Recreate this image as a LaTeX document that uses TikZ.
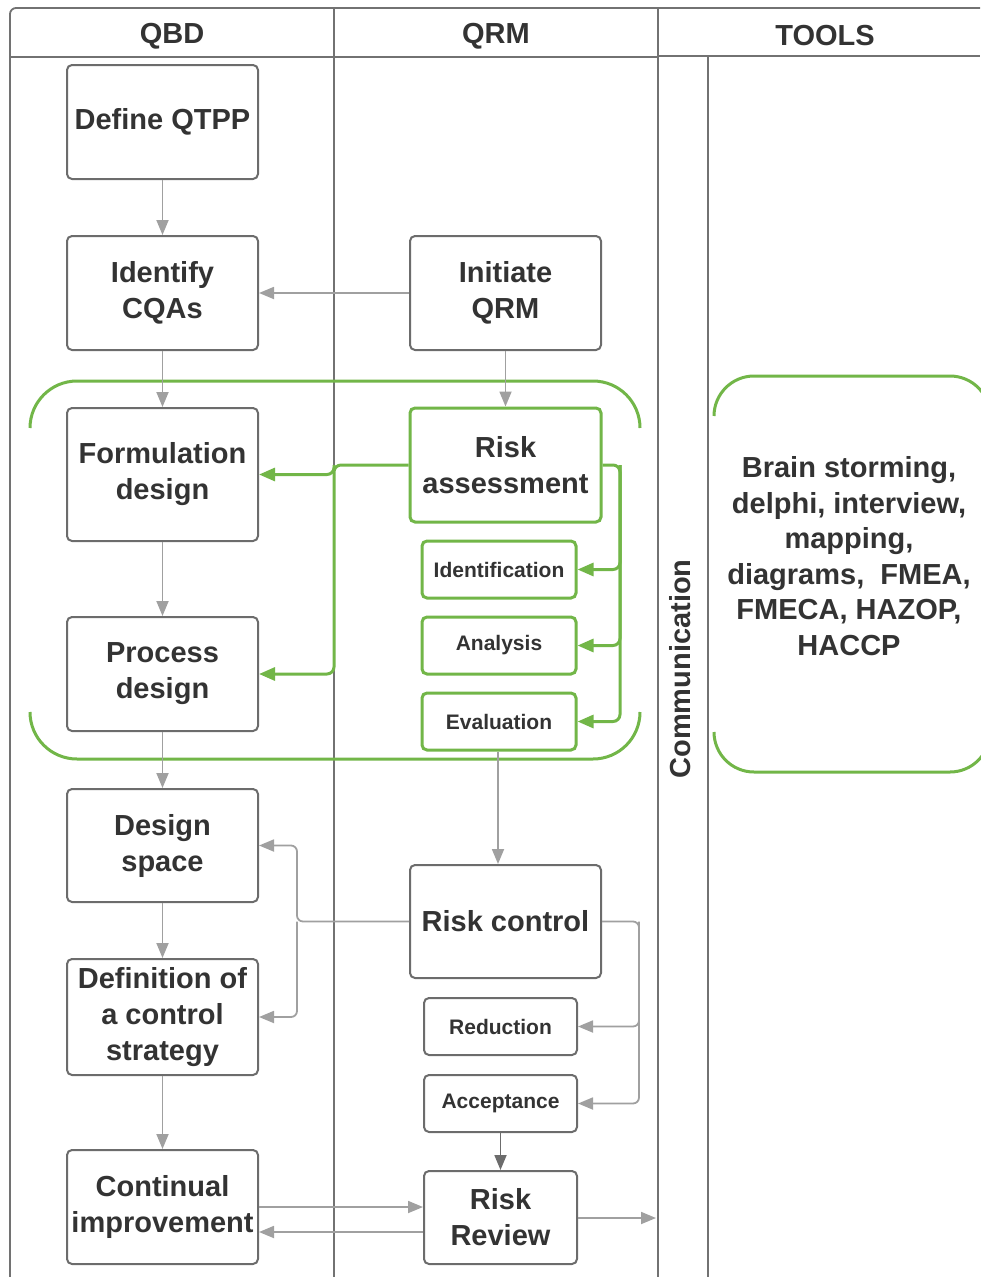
\documentclass[tikz,border=0pt]{standalone}
\usepackage{fontspec}
\setmainfont{Liberation Sans}
\usetikzlibrary{arrows.meta}
\definecolor{txtgray}{HTML}{333333}
\definecolor{boxgray}{HTML}{6C6C6C}
\definecolor{lnkgray}{HTML}{A0A0A0}
\definecolor{framegray}{HTML}{727272}
\definecolor{qgreen}{HTML}{72B648}
\tikzset{
  box/.style={draw=boxgray, line width=2pt, rounded corners=5pt, fill=white,
    text=txtgray, align=center, inner sep=0pt,
    font=\bfseries\fontsize{29}{36}\selectfont},
  smallbox/.style={box, font=\bfseries\fontsize{21}{26}\selectfont},
  gbox/.style={box, draw=qgreen, line width=3pt},
  gsmallbox/.style={smallbox, draw=qgreen, line width=3pt},
  lnk/.style={draw=lnkgray, line width=1.8pt, rounded corners=6pt,
    -{Triangle[length=15pt,width=12pt]}},
  darklnk/.style={lnk, draw=boxgray},
  glnk/.style={draw=qgreen, line width=3pt, rounded corners=7pt,
    -{Triangle[length=16pt,width=13pt]}},
  frame/.style={draw=framegray, line width=1.8pt},
  gcont/.style={draw=qgreen, line width=3pt},
  heading/.style={text=txtgray, font=\bfseries\fontsize{29}{34}\selectfont},
}
\begin{document}
\begin{tikzpicture}[x=1pt,y=-1pt]
\useasboundingbox (0,0) rectangle (980,1277);

% swimlane frame
\draw[frame, rounded corners=6pt] (10,1277) -- (10,8) -- (980,8);
\draw[frame] (10,57) -- (658,57);
\draw[frame] (658,56) -- (980,56);
\draw[frame] (334,8) -- (334,1277);
\draw[frame] (658,8) -- (658,1277);
\draw[frame] (708,57) -- (708,1277);

\node[heading] (hqbd) at (172,36) {QBD};
\node[heading] (hqrm) at (496,36) {QRM};
\node[heading] (htools) at (825,36) {TOOLS};
\node[heading, rotate=90] (comm) at (680,669) {Communication};
\coordinate (commline) at (656,1218);

% risk assessment group bracket
\draw[gcont] (30,428) arc[start angle=180, end angle=90, radius=47pt]
  -- (593,381) arc[start angle=90, end angle=0, radius=47pt];
\draw[gcont] (30,712) arc[start angle=180, end angle=270, radius=47pt]
  -- (593,759) arc[start angle=270, end angle=360, radius=47pt];

% tools bracket
\draw[gcont] (714,416) arc[start angle=180, end angle=90, radius=40pt]
  -- (950,376) arc[start angle=90, end angle=0, radius=40pt] -- (990,430);
\draw[gcont] (714,732) arc[start angle=180, end angle=270, radius=40pt]
  -- (950,772) arc[start angle=270, end angle=360, radius=40pt] -- (990,720);
\node[text=txtgray, align=center, font=\bfseries\fontsize{29}{35.5}\selectfont]
  (tools) at (849,556) {Brain storming,\\delphi, interview,\\mapping,\\diagrams,~ FMEA,\\FMECA, HAZOP,\\HACCP};

% QbD lane
\node[box, minimum width=191pt, minimum height=114pt] (qtpp) at (162.5,122) {Define QTPP};
\node[box, minimum width=191pt, minimum height=114pt] (cqa) at (162.5,293) {Identify\\CQAs};
\node[box, minimum width=191pt, minimum height=133pt] (form) at (162.5,474.5) {Formulation\\design};
\node[box, minimum width=191pt, minimum height=114pt] (proc) at (162.5,674) {Process\\design};
\node[box, minimum width=191pt, minimum height=113pt] (ds) at (162.5,845.5) {Design\\space};
\node[box, minimum width=191pt, minimum height=116pt] (def) at (162.5,1017) {Definition of\\a control\\strategy};
\node[box, minimum width=191pt, minimum height=114pt] (ci) at (162.5,1207) {Continual\\improvement};

% QRM lane
\node[box, minimum width=191pt, minimum height=114pt] (init) at (505.5,293) {Initiate\\QRM};
\node[gbox, minimum width=191pt, minimum height=114pt] (ra) at (505.5,465) {Risk\\assessment};
\node[gsmallbox, minimum width=154pt, minimum height=57pt] (ident) at (499,569.5) {Identification};
\node[gsmallbox, minimum width=154pt, minimum height=57pt] (anal) at (499,645.5) {Analysis};
\node[gsmallbox, minimum width=154pt, minimum height=57pt] (eval) at (499,721.5) {Evaluation};
\node[box, minimum width=191pt, minimum height=113pt] (rc) at (505.5,921.5) {Risk control};
\node[smallbox, minimum width=153pt, minimum height=57pt] (red) at (500.5,1026.5) {Reduction};
\node[smallbox, minimum width=153pt, minimum height=57pt] (acc) at (500.5,1103.5) {Acceptance};
\node[box, minimum width=153pt, minimum height=93pt] (rr) at (500.5,1217.5) {Risk\\Review};

% main flow
\draw[lnk] (qtpp) -- (cqa);
\draw[lnk] (init.west) -- (init.west -| cqa.east);
\draw[lnk] (cqa) -- (form);
\draw[lnk] (init) -- (ra);
\draw[lnk] (form) -- (proc);
\draw[lnk] (proc) -- (ds);
\draw[lnk] (ds) -- (def);
\draw[lnk] (def) -- (ci);
\draw[lnk] ([xshift=-1pt]eval.south) -- ([xshift=-1pt]eval.south |- rc.north);
\draw[darklnk] (acc) -- (rr);
\draw[lnk] (ci.east) -- (ci.east -| rr.west);
\draw[lnk] ([yshift=-14.5pt]rr.west) -- ([yshift=-25pt]ci.east);
\draw[lnk] (rr.east |- commline) -- (commline);

% risk assessment feeds design steps and its sub-steps
\coordinate (raL) at (334,465);
\coordinate (raR) at (620,465);
\draw[glnk] (ra.west) -- (raL) |- (proc.east);
\draw[glnk] (raL) |- (form.east);
\draw[glnk] (ra.east) -- (raR) |- (eval.east);
\draw[glnk] (raR) |- (anal.east);
\draw[glnk] (raR) |- (ident.east);

% risk control feeds design space, control strategy and its sub-steps
\coordinate (rcL) at (297,921.5);
\coordinate (rcR) at (639,921.5);
\draw[lnk] (rc.west) -- (rcL) |- (ds.east);
\draw[lnk] (rcL) |- (def.east);
\draw[lnk] (rc.east) -- (rcR) |- (acc.east);
\draw[lnk] (rcR) |- (red.east);
\end{tikzpicture}
\end{document}
